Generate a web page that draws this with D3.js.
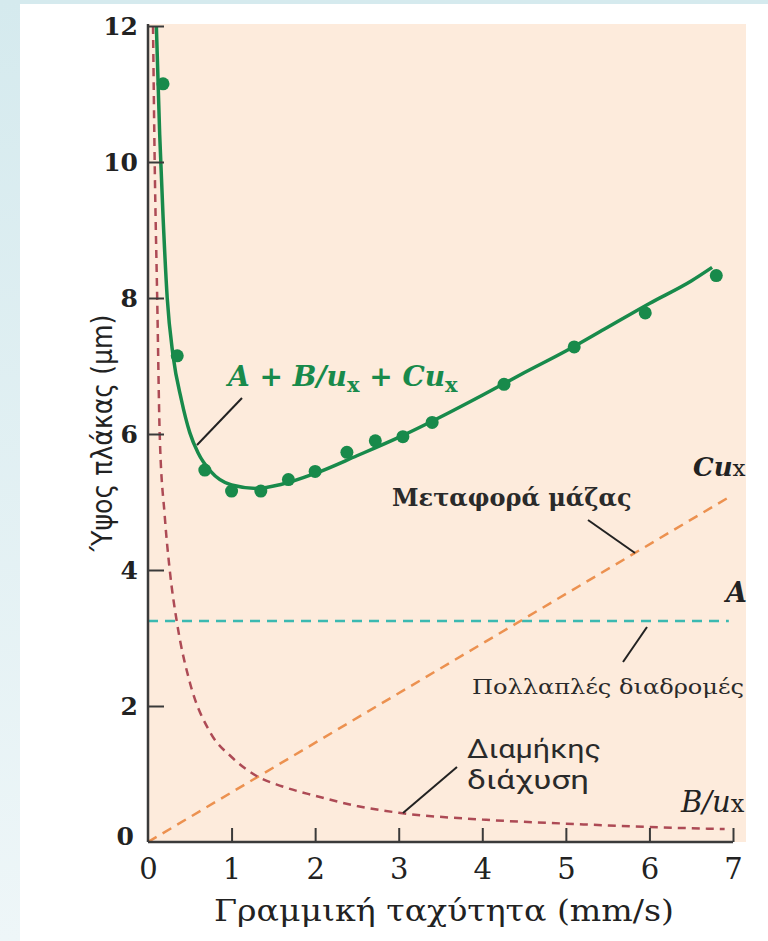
<!DOCTYPE html>
<html>
<head>
<meta charset="utf-8">
<script src="https://cdn.jsdelivr.net/npm/d3@7"></script>
<style>
  html, body { margin: 0; padding: 0; }
  body { width: 768px; height: 941px; overflow: hidden; background: #dcedf1; }
</style>
</head>
<body>
<div id="plot"></div>
<script>
//Tick values
const xTicks = [0, 1, 2, 3, 4, 5, 6, 7];
const yTicks = [0, 2, 4, 6, 8, 10, 12];

//Measured plate heights (green dots)
const dotU = [0.18, 0.35, 0.68, 1.0, 1.35, 1.68, 2.0, 2.38, 2.72, 3.05, 3.4, 4.26, 5.1, 5.95, 6.8];
const dotH = [11.15, 7.15, 5.47, 5.16, 5.16, 5.33, 5.45, 5.73, 5.9, 5.96, 6.17, 6.73, 7.28, 7.78, 8.33];

//Fitted curve A + B/u + Cu
const fitU = [0.1, 0.14, 0.18, 0.23, 0.3, 0.4, 0.5, 0.6, 0.75, 1.0, 1.3, 1.6, 2.0, 2.5, 3.0, 3.5, 4.0, 4.5, 5.0, 5.5, 6.0, 6.5, 6.75];
const fitH = [12.0, 10.4, 9.2, 8.0, 7.15, 6.5, 6.02, 5.72, 5.45, 5.25, 5.2, 5.26, 5.42, 5.68, 5.95, 6.25, 6.57, 6.9, 7.22, 7.57, 7.92, 8.25, 8.45];

//Longitudinal diffusion B/u
const diffU = [0.06, 0.08, 0.11, 0.14, 0.2, 0.26, 0.35, 0.5, 0.75, 1.0, 1.3, 1.6, 2.0, 2.5, 3.0, 4.0, 5.0, 6.0, 6.9];
const diffH = [12.0, 10.0, 8.0, 6.0, 4.8, 4.0, 3.2, 2.35, 1.6, 1.25, 0.97, 0.82, 0.68, 0.53, 0.43, 0.33, 0.27, 0.22, 0.19];

//Mass transfer Cu
const massU = [0, 6.95];
const massH = [0, 5.07];

//Multiple paths A
const pathU = [0, 6.95];
const pathH = [3.25, 3.25];

const w = 768;
const h = 941;

const svg = d3.select("#plot")
    .append("svg")
    .attr("width", w)
    .attr("height", h)
    .style("display", "block");

//Background: light blue frame with white card
const defs = svg.append("defs");
const grad = defs.append("linearGradient")
    .attr("id", "bg").attr("x1", 0).attr("y1", 0).attr("x2", 0).attr("y2", 1);
grad.append("stop").attr("offset", 0).attr("stop-color", "#d5eaee");
grad.append("stop").attr("offset", 1).attr("stop-color", "#eef6f8");
svg.append("rect").attr("width", w).attr("height", h).attr("fill", "url(#bg)");
svg.append("rect").attr("x", 20).attr("y", 4).attr("width", w - 20).attr("height", h - 4).attr("fill", "#ffffff");

//Scales
const x = d3.scaleLinear().domain([0, 7]).range([148, 733]);
const y = d3.scaleLinear().domain([0, 12]).range([842, 26]);

//Plot background
svg.append("rect")
    .attr("x", x(0)).attr("y", 24)
    .attr("width", 746 - x(0)).attr("height", y(0) - 24)
    .attr("fill", "#fdebdc");

defs.append("clipPath").attr("id", "clip")
    .append("rect").attr("x", x(0)).attr("y", y(12) - 2)
    .attr("width", 746 - x(0)).attr("height", y(0) - y(12) + 2);

const line = d3.line().x(d => x(d[0])).y(d => y(d[1]));
const smooth = d3.line().x(d => x(d[0])).y(d => y(d[1])).curve(d3.curveMonotoneX);

const plot = svg.append("g").attr("clip-path", "url(#clip)");

//Component lines
plot.append("path")
    .datum(d3.zip(pathU, pathH))
    .attr("d", line)
    .attr("fill", "none").attr("stroke", "#3bb9b1")
    .attr("stroke-width", 2.5).attr("stroke-dasharray", "10,7");

plot.append("path")
    .datum(d3.zip(massU, massH))
    .attr("d", line)
    .attr("fill", "none").attr("stroke", "#ec9150")
    .attr("stroke-width", 2.5).attr("stroke-dasharray", "10,7");

plot.append("path")
    .datum(d3.zip(diffU, diffH))
    .attr("d", smooth)
    .attr("fill", "none").attr("stroke", "#ad4a55")
    .attr("stroke-width", 2.5).attr("stroke-dasharray", "8,6");

//Fitted curve and data
plot.append("path")
    .datum(d3.zip(fitU, fitH))
    .attr("d", smooth)
    .attr("fill", "none").attr("stroke", "#188a4b")
    .attr("stroke-width", 3.5);

plot.selectAll("circle")
    .data(d3.zip(dotU, dotH))
    .join("circle")
    .attr("cx", d => x(d[0]))
    .attr("cy", d => y(d[1]))
    .attr("r", 6.5)
    .attr("fill", "#188a4b");

//Axes
const axisColor = "#3a3a3a";
const xAxis = svg.append("g")
    .attr("transform", `translate(0,${y(0)})`)
    .call(d3.axisBottom(x).tickValues(xTicks).tickFormat(d3.format("d"))
        .tickSizeInner(-14).tickSizeOuter(0).tickPadding(24));
const yAxis = svg.append("g")
    .attr("transform", `translate(${x(0)},0)`)
    .call(d3.axisLeft(y).tickValues(yTicks).tickFormat(d3.format("d"))
        .tickSizeInner(-16).tickSizeOuter(0).tickPadding(24));

[xAxis, yAxis].forEach(g => {
    g.select(".domain").attr("stroke", axisColor).attr("stroke-width", 2.5);
    g.selectAll(".tick line").attr("stroke", axisColor).attr("stroke-width", 2);
});
xAxis.select(".domain").attr("d", `M${x(0)},0H${x(7)}`);
yAxis.select(".domain").attr("d", `M0,${y(0)}V${y(12) - 2}`);
xAxis.selectAll(".tick").filter(d => d === 0).select("line").remove();
yAxis.selectAll(".tick").filter(d => d === 0).select("line").remove();

xAxis.selectAll(".tick text")
    .attr("font-family", "'DejaVu Serif', serif")
    .attr("font-size", 29)
    .attr("fill", "#222")
    .attr("y", 37)
    .attr("dy", "0");
yAxis.selectAll(".tick text")
    .attr("font-family", "'DejaVu Serif', serif")
    .attr("font-weight", "bold")
    .attr("font-size", 25)
    .attr("fill", "#222")
    .attr("x", d => d === 0 ? -14 : -10)
    .attr("dy", d => d === 0 ? "0.1em" : "0.35em");

//Axis titles
svg.append("text")
    .attr("x", 444).attr("y", 921)
    .attr("text-anchor", "middle")
    .attr("font-family", "'DejaVu Serif', serif")
    .attr("font-size", 30)
    .attr("textLength", 460)
    .attr("lengthAdjust", "spacingAndGlyphs")
    .attr("fill", "#222")
    .text("Γραμμική ταχύτητα (mm/s)");

svg.append("text")
    .attr("transform", "translate(112,433) rotate(-90)")
    .attr("text-anchor", "middle")
    .attr("font-family", "'DejaVu Sans Condensed', 'DejaVu Sans', sans-serif")
    .attr("font-size", 28)
    .attr("fill", "#222")
    .text("Ύψος πλάκας (μm)");

//Annotations
const leader = (x1, y1, x2, y2) => svg.append("line")
    .attr("x1", x1).attr("y1", y1).attr("x2", x2).attr("y2", y2)
    .attr("stroke", "#222").attr("stroke-width", 2);

const eq = svg.append("text")
    .attr("x", 228).attr("y", 386)
    .attr("font-family", "'DejaVu Serif', serif")
    .attr("font-style", "italic").attr("font-weight", "bold")
    .attr("font-size", 28)
    .attr("fill", "#188a4b");
eq.append("tspan").text("A + B/u");
eq.append("tspan").attr("dy", 6).attr("font-size", 21).attr("font-style", "normal").text("x");
eq.append("tspan").attr("dy", -6).text(" + Cu");
eq.append("tspan").attr("dy", 6).attr("font-size", 21).attr("font-style", "normal").text("x");
leader(242, 398, 197, 445);

svg.append("text")
    .attr("x", 392).attr("y", 506)
    .attr("font-family", "'DejaVu Serif', serif")
    .attr("font-weight", "bold")
    .attr("font-size", 24)
    .attr("fill", "#2a2a2a")
    .text("Μεταφορά μάζας");
leader(588, 520, 635, 553);

const cu = svg.append("text")
    .attr("x", 693).attr("y", 476)
    .attr("font-family", "'DejaVu Serif', serif")
    .attr("font-style", "italic").attr("font-weight", "bold")
    .attr("font-size", 26)
    .attr("fill", "#222");
cu.append("tspan").text("Cu");
cu.append("tspan").attr("font-size", 23).attr("font-style", "normal").attr("font-weight", "normal").text("x");

svg.append("text")
    .attr("x", 726).attr("y", 602)
    .attr("font-family", "'DejaVu Serif', serif")
    .attr("font-style", "italic").attr("font-weight", "bold")
    .attr("font-size", 27)
    .attr("fill", "#222")
    .text("A");
leader(647, 627, 623, 662);

svg.append("text")
    .attr("x", 472).attr("y", 694)
    .attr("font-family", "'DejaVu Serif', serif")
    .attr("font-size", 21)
    .attr("textLength", 272)
    .attr("lengthAdjust", "spacingAndGlyphs")
    .attr("fill", "#2a2a2a")
    .text("Πολλαπλές διαδρομές");

svg.append("text")
    .attr("x", 467).attr("y", 758)
    .attr("font-family", "Roboto, sans-serif")
    .attr("font-size", 26)
    .attr("textLength", 134)
    .attr("lengthAdjust", "spacingAndGlyphs")
    .attr("fill", "#2a2a2a")
    .text("Διαμήκης");
svg.append("text")
    .attr("x", 467).attr("y", 789)
    .attr("font-family", "Roboto, sans-serif")
    .attr("font-size", 26)
    .attr("textLength", 122)
    .attr("lengthAdjust", "spacingAndGlyphs")
    .attr("fill", "#2a2a2a")
    .text("διάχυση");
leader(457, 767, 403, 813);

const bu = svg.append("text")
    .attr("x", 681).attr("y", 812)
    .attr("font-family", "'DejaVu Serif', serif")
    .attr("font-style", "italic")
    .attr("font-size", 29)
    .attr("fill", "#222");
bu.append("tspan").text("B/u");
bu.append("tspan").attr("font-size", 24).attr("font-style", "normal").text("x");
</script>
</body>
</html>
